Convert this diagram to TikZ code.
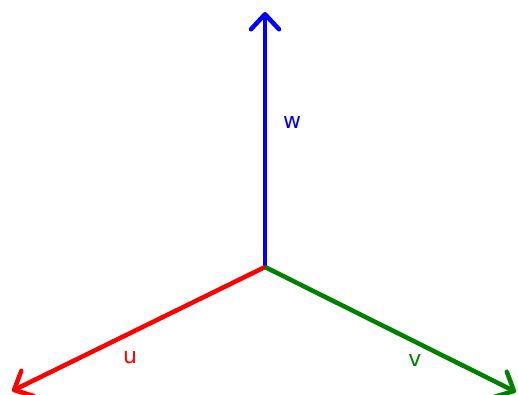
\documentclass[tikz,border=0pt]{standalone}
\usepackage{fontspec}
\setmainfont{DejaVu Sans}
\usetikzlibrary{arrows.meta}
\begin{document}
\begin{tikzpicture}[x=1pt,y=-1pt,
  vec/.style={line width=4.5pt,-{Straight Barb[length=15pt,width=28pt,line width=4.5pt,round]}},
  lab/.style={font=\fontsize{22}{24}\selectfont,inner sep=0pt}]
\useasboundingbox (0,0) rectangle (518,394);
\coordinate (o) at (265,267);
\coordinate (wt) at (265,12);
\coordinate (ut) at (12,391);
\coordinate (vt) at (516,392);
\draw[vec,blue] (o) -- (wt);
\draw[vec,red] (o) -- (ut);
\draw[vec,green!50!black] (o) -- (vt);
\node[lab,blue] (w) at (292,122) {w};
\node[lab,red] (u) at (130,357) {u};
\node[lab,green!50!black] (v) at (415,360) {v};
\end{tikzpicture}
\end{document}
